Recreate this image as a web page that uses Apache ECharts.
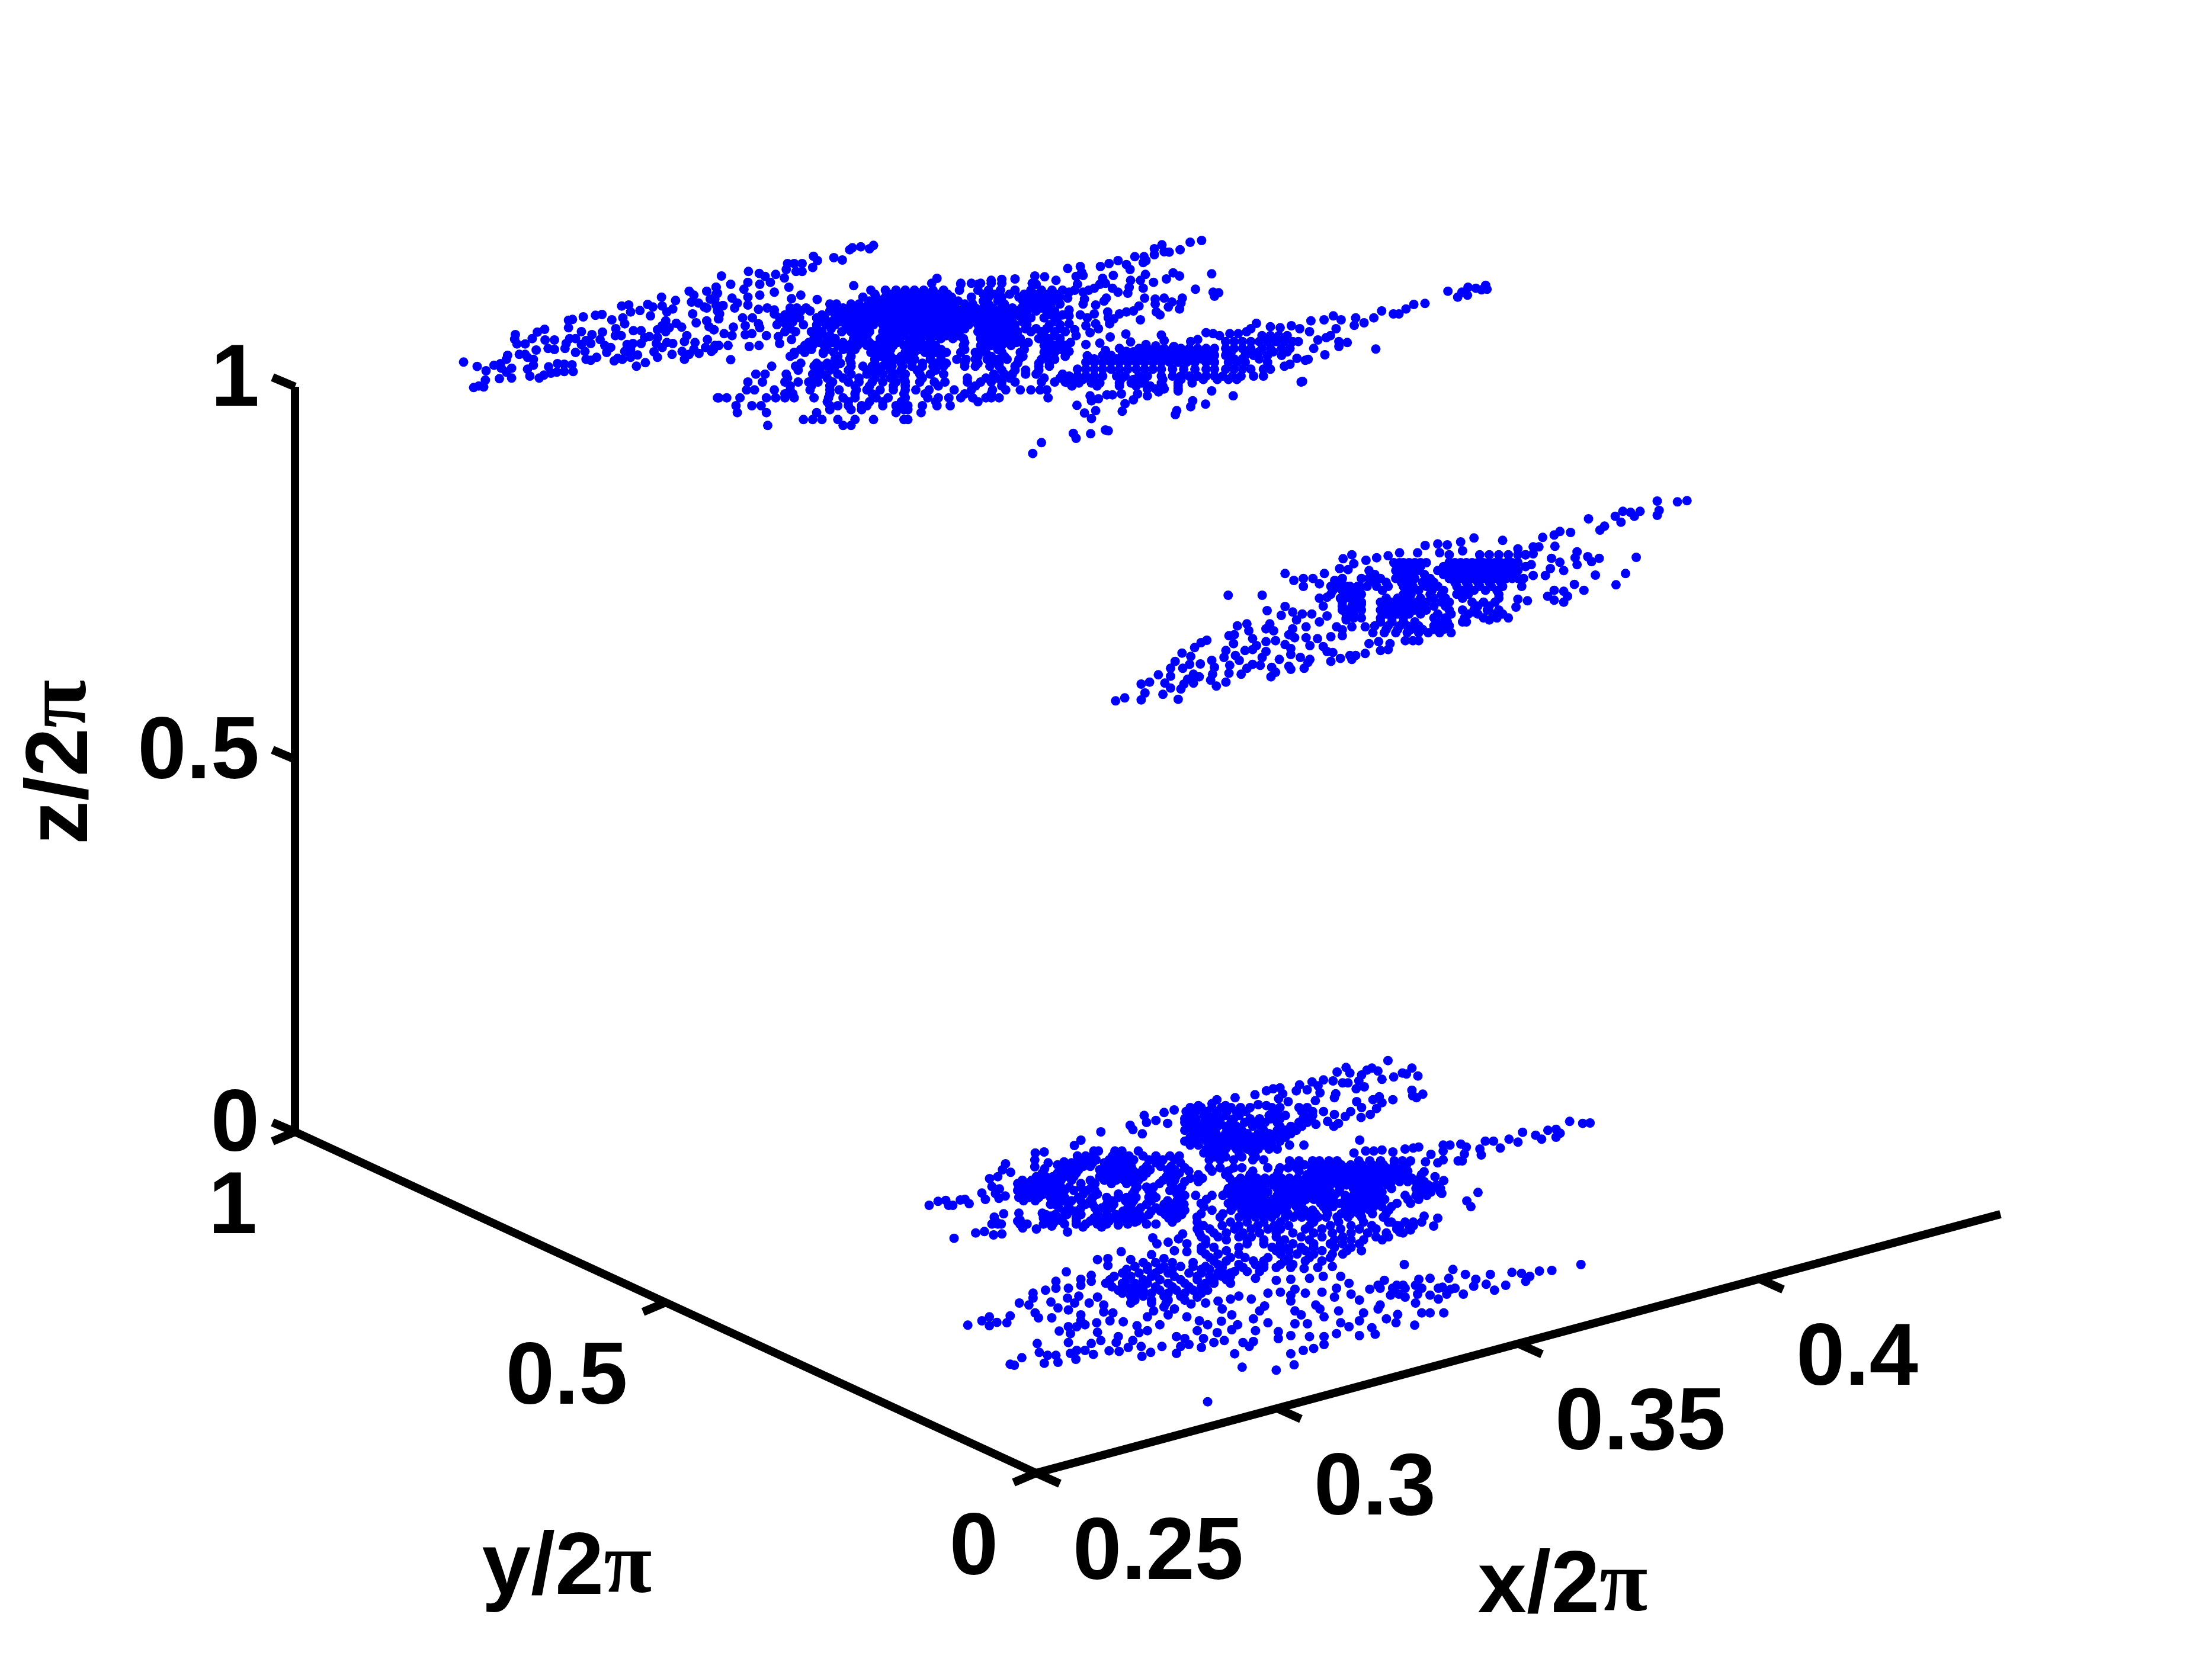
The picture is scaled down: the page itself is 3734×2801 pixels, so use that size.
<!DOCTYPE html>
<html><head><meta charset="utf-8"><style>html,body{margin:0;background:#fff}#c{width:3734px;height:2801px}</style>
<script src="https://cdn.jsdelivr.net/npm/echarts@6/dist/echarts.min.js"></script></head><body><div id="c"></div><script>
// Axis ranges and tick labels
const xTicks=[0.25,0.3,0.35,0.4], yTicks=[0,0.5,1], zTicks=[0,0.5,1];
const xTickText=['0.25','0.3','0.35','0.4'], yTickText=['0','0.5','1'], zTickText=['0','0.5','1'];
const xRange=[0.25,0.45];
// Point readings per picture region, as plane positions: dots=[u,v,u,v...], rows=[v,u,u,u...]
const top1Dots=[57,664,115,686,153,708,150,755,143,790,122,785,100,793,187,680,215,672,218,695,262,695,245,630,240,650,210,748,262,745,240,715,278,525,275,548,285,572,320,572,350,545,372,512,403,498,295,625,320,625,330,640,367,603,355,650,355,680,330,700,340,735,380,745,400,730,420,688,430,720,458,672,455,715,487,675,487,712,520,678,525,712,405,552,445,552,418,595,445,600,490,595,495,570,510,545,535,545,560,510,605,525,580,555,560,575,650,512,640,550,600,570,575,610,535,615,580,650,600,655,625,640,660,580,685,590,668,615,505,490,505,452,522,448,568,435,620,427,648,423,690,450,737,440,745,470,707,495,705,530,730,530,732,380,762,375,770,410,810,403,843,372,865,385,855,430,902,335,905,380,925,410,950,395,962,352,782,505,815,505,830,540,850,535,815,570,780,570,755,575,745,610,770,600,800,628,770,640,735,650,700,658,715,645,795,685,833,667,920,455,905,480,885,500,885,540,920,510,935,490,965,468,988,487,1010,530,1000,560,950,570,925,565,880,570,905,590,870,612,885,640,947,625,990,610,1000,650,1020,625,1045,565,1040,600,1062,620,1098,550,1090,590,1115,610,1130,580,1020,305,1040,325,1095,305,1135,285,1135,320,1030,360,1060,365,1085,385,1110,345,1135,375,1165,378,1035,420,1095,390,1150,420,1145,445,1050,465,1095,455,1125,500,1105,485];
const top2Dots=[1217,1127,1250,1072,40,228,75,270,20,285,25,315,15,345,45,378,25,405,30,445,80,340,100,365,90,390,142,205,140,260,125,295,140,335,140,375,183,215,205,230,185,270,185,325,245,220,225,260,240,310,278,238,295,285,290,165,315,165,345,165,285,195,322,205,345,205,388,128,403,150,385,185,465,135,497,147,525,95,535,85,567,80,600,90,615,73,540,277,305,343,340,325,402,347,180,397,213,390,240,400,240,420,120,440,157,440,130,480,180,470,185,490,130,525,155,520,145,585,182,580,210,530,255,535,260,570,305,550,85,487,12,500,50,520,80,530,65,580,30,580,10,600,75,652,315,625,355,605,385,575,430,585,425,620,855,240,945,270,1010,270,1060,250,1100,245,1150,243,1225,228,1262,232,1305,250,1230,270];
const top2Rows=[
[265,835,945,985,1020,1060,1100,1215],
[300,605,660,700,735,770,805,840,880,940,1010,1050,1095,1150,1210,1250,1290,1330],
[320,620,680,715,750,790,825,860,895,1030,1075,1130,1185,1225,1265,1305],
[335,575,625,660,695,730,770,805,840,875,910,985,1050,1100,1165,1200,1240,1280,1320],
[355,600,645,680,715,750,790,825,860,895,935,1030,1085,1180,1220,1260,1300],
[370,450,475,530,560,595,630,665,700,735,770,805,840,875,910,960,990,1050,1110,1200,1240,1280,1320],
[390,300,325,360,465,500,540,575,610,645,680,715,750,785,820,855,890,925,960,1000,1030,1065,1100,1140,1175,1210,1250,1285],
[405,300,340,375,450,480,520,555,590,625,660,695,730,765,800,835,870,905,940,975,1010,1045,1080,1120,1155,1190,1230,1270,1300],
[425,280,320,420,490,530,565,600,635,670,705,740,775,810,850,880,915,950,985,1020,1055,1090,1125,1160,1195,1285,1330],
[440,260,295,335,400,430,470,510,545,580,615,650,685,720,755,790,825,865,895,930,965,1000,1035,1070,1105,1140,1175,1210,1260,1310],
[460,270,310,420,455,490,530,565,600,635,670,705,740,775,810,845,885,920,955,990,1025,1060,1100,1135,1180,1300],
[475,250,285,350,400,435,470,510,545,580,615,650,685,720,755,790,830,870,905,940,975,1010,1045,1080,1115,1150,1195,1280,1320],
[495,300,400,455,515,550,585,670,705,740,775,815,850,885,925,960,1030,1065,1100,1140,1190,1230,1270,1320],
[510,280,320,380,420,495,530,565,600,650,690,725,760,795,835,870,905,940,1010,1045,1085,1120,1160,1210,1250,1300,1340],
[530,410,450,555,590,660,695,730,775,810,850,890,935,1030,1070,1110,1150,1260,1300],
[545,390,440,470,540,575,640,675,715,760,795,830,870,915,955,1020,1055,1095,1130,1170,1240,1280,1320],
[565,370,410,460,500,535,570,600,660,705,750,790,830,960,1035,1080,1115,1155,1200,1270,1320],
[580,355,385,430,480,520,555,590,620,650,690,730,775,810,850,955,1020,1060,1100,1135,1185,1260,1300,1340],
[600,340,380,440,500,545,610,640,680,750,790,830,870,960,1030,1085,1185,1280,1320],
[615,315,355,425,465,530,605,620,665,735,770,810,850,890,945,1000,1040,1100,1170,1260,1300,1340],
[635,300,480,530,640,680,720,750,830,870,1010,1060,1110,1180,1270,1340],
[650,470,525,620,660,700,735,770,830,870,930,965,1000,1045,1085,1120,1165,1250,1300],
[670,340,400,440,490,530,620,670,720,760,800,850,890,960,1010,1060,1090,1160,1240,1280],
[685,230,320,390,420,470,530,575,610,650,685,725,760,800,840,880,960,1000,1055,1090,1150,1240,1280],
[705,330,400,450,520,590,630,680,720,780,850,1100,1150,1190,1240],
[725,170,205,285,385,420,480,530,590,620,650,700,735,790,830,880,1070,1110,1140,1190,1230,1330],
[745,290,400,440,500,560,620,680,730,800,970,1040,1080,1130,1260,1320],
[765,140,195,280,330,370,405,460,520,560,610,650,700,735,790,845,885,970,1020,1060,1100,1150,1250,1300,1340],
[785,300,380,450,545,600,690,735,860,1000,1100],
[805,135,165,240,300,375,450,485,550,590,640,690,735,775,825,920,985,1065,1115,1170,1210,1245,1270],
[825,280,310,450,545,610,730,810,960,1060],
[845,25,60,30,110,210,245,280,315,390,445,500,545,625,670,735,820,860,900,945,990,1040,1060,1090,1275],
[865,440,520,600,650,720,850,1010],
[885,95,155,190,450,480,520,570,590,650,700,735,745,800,855,905],
[905,450,530,570,730,745],
[920,100,210,400,700,795],
[955,350,385,420,480,545,615,730,745],
[985,215,500,530]];
const top3Dots=[5,190,50,180,55,210,35,230,60,225,40,270,122,180,153,165,185,150,215,170,228,195,245,130,278,130,285,150,275,160,315,90,342,70,315,120,350,105,368,107,407,95,443,57,484,48,130,240,168,225,140,265,120,270,100,290,80,300,60,310,30,300,10,310,5,340,65,345,60,370,185,310,165,290,220,315,225,285,230,250,265,250,283,220,275,290,312,260,358,243,382,212,405,228,520,217,462,295,525,310,545,313,530,330,143,340,135,355,105,375,280,340,318,345,350,340,378,360,365,385,318,370,415,340,410,365,405,395,322,410,335,425,260,380,240,405,215,410,190,420,148,410,150,440,170,445,155,470,265,450,10,400,50,425,100,420,75,440,70,480,105,470,115,495,85,515,10,430,10,470,30,500,35,530,15,565,70,575,120,568,157,537,213,522,230,562,340,527,350,555,190,595,215,610,285,575,320,582,385,585,140,605,10,610,75,632,445,560,470,550,500,515,525,520,548,530,585,520,615,520,645,510,660,495,680,468,730,485,765,490,805,480,835,495,875,455,922,450,955,430,983,450,965,495,870,510,1035,440,1030,478,1065,465,1100,440,1128,405,1170,420,1190,420,1215,395,1243,372,1283,367,1365,305,1400,335,1415,310,1435,325,1437,285,1465,290,1500,275,1505,295,1485,298,900,552,930,540,945,530,975,560,975,585,1005,565,885,595,925,627,1107,598,865,650,855,655,825,645,800,675,780,685,840,765,845,762,85,835,115,850,145,830,165,830,197,825,255,825,240,855,210,875,290,835,330,815,400,810,520,810,597,835,38,883,90,860,452,860,445,890,498,877,200,913,65,922,105,910,90,950,395,910,390,930,25,1025,35,1050,87,1027,140,1008,150,1012];
const top3Rows=[
[530,700,730,760,790],
[560,570,600,630,660,690,720,750,780,810,830],
[595,260,290,320,350,380,410,440,470,500,530,570,600,630,660,700,730,770,800],
[612,240,275,305,335,365,395,425,455,485,515,590,650,690,740,790],
[630,130,160,200,230,260,290,320,350,380,410,440,470,500,530,570,640,670,720,770],
[648,100,145,180,215,245,275,305,335,365,395,425,455,485,520,600,630,690],
[665,70,100,130,160,190,220,250,280,310,340,370,400,430,460,500,530,580,610,640,720],
[700,40,70,100,130,160,190,220,250,280,310,340,380,420,460,500,530,570,600,630,660,705,730],
[735,10,40,70,100,130,180,210,260,290,340,380,410,440,470,500,530,560,595,625,670,705],
[752,30,60,95,195,240,280,345,410,450,490,540,580,610],
[770,10,45,90,120,190,232,270,340,400,450],
[785,20,110,190,250,300,345,400],
[800,290,320,350,400]];
const midDots=[36,1090,60,1075,103,1005,103,1085,113,1050,125,995,160,1057,200,1082,165,1000,180,1025,207,1030,215,1005,240,1000,225,980,240,955,255,968,148,958,180,925,180,965,212,925,192,890,233,865,210,848,230,905,258,903,243,820,260,795,275,783,288,885,295,920,290,955,285,985,300,1015,325,995,333,950,345,800,333,760,347,755,355,710,380,700,385,735,395,775,430,725,440,700,450,735,320,870,335,910,325,835,350,860,375,835,395,830,360,885,380,925,365,955,395,905,415,910,420,870,430,840,405,810,430,790,455,785,480,805,445,920,465,880,495,855,490,915,495,930,455,945,443,968,530,925,540,895,520,870,495,825,545,810,580,815,565,775,600,765,630,760,630,730,615,715,655,715,535,770,490,755,505,770,500,725,535,715,510,680,525,650,550,650,480,612,500,640,433,633,470,657,570,690,590,660,580,610,570,570,590,565,640,680,650,660,660,640,630,610,690,715,710,745,660,570,680,600,645,540,610,520,640,510,670,510,700,470,610,480,630,470,680,470,480,445,503,480,528,470,528,510,553,470,570,497,583,445,623,420,645,425,632,370,655,350,660,395,692,378,720,365,750,355,780,340,827,340,847,303,880,295,905,300,940,285,975,265,885,340,910,350,945,330,1050,277,1155,262,1185,250,1200,232,1228,237,1275,168,1305,225,1317,205,1345,155,1365,130,1360,185,1385,135,1395,155,1410,130,1455,78,1508,82,1533,76,1460,125,1455,150,1187,307,1130,310,1145,310,1130,345,1110,350,1178,368,1200,388,1175,420,1162,455,1210,430,1245,335,1240,365,1245,400,1273,360,1283,385,1303,368,1400,363,1293,453,1372,445,1347,502,1238,500,1263,530,1210,535,1220,560,1210,590,1185,530,1168,560,1185,580,1115,583,1090,575,1085,615,331,555,420,555,1130,455,1100,510,1105,470,1125,400,1090,320,725,790,700,800,755,800,730,835,750,830,690,850,665,860,650,860,655,880,625,875,600,890,605,845,545,880,590,840,945,690,955,690,1015,680,975,640];
const midRows=[
[350,990,1015,1040,1065,1090,1110],
[390,765,780,790,805,820,835,850,910,925,940,955,970,985,1000,1015,1030,1045,1060,1075,1090],
[410,780,805,835,895,925,955,985,1015,1045,1075,1110],
[430,700,770,785,800,815,830,880,895,910,925,940,955,970,985,1000,1015,1030,1045,1060,1075,1090],
[450,715,785,815,845,895,925,955,985,1015,1045,1075],
[470,700,730,770,785,800,820,860,910,925,940,955,970,985,1000,1015,1030,1045,1060,1075,1090],
[490,715,745,785,810,840,870,925,955,985,1015,1045],
[510,600,625,650,675,695,720,750,790,815,850,880,930,960,990,1020,1050],
[530,605,630,655,675,735,800,830,865,895,945,975,1005,1035],
[550,600,640,660,680,790,810,860,890,930,960,1040],
[570,625,650,675,745,775,805,835,870,900,945,1040],
[590,630,660,680,730,760,790,820,850,890,910,970,1000,1030],
[610,630,655,675,745,775,805,835,870,900,985,1015],
[630,630,650,680,730,760,790,820,850,910,945,975,1010,1040],
[650,640,660,745,775,805,835,880,915,960,985,1025,1050],
[670,640,660,680,730,760,790,870,900,950,1000,1035,1065],
[690,730,760,790,820,880,905],
[710,715,750,780,800,830,870,890,910],
[728,745,775,810,840,870,895],
[745,740,770,800,830,855,885,915],
[785,795,815,830]];
const low1Dots=[72,795,110,775,143,770,155,795,173,795,205,768,225,765,243,787,297,733,312,765,398,585,385,615,420,628,330,660,365,650,340,700,372,712,355,735,370,760,397,748,525,530,563,525,523,565,523,600,580,580,620,590,648,575,565,610,720,465,692,492,805,423,930,390,942,412,982,433,990,340,1040,365,1000,375,1075,325,1090,380,1118,312,1165,360,555,835,590,850,455,835,460,870,390,838,350,855,365,885];
const low1Rows=[
[520,775,795,865,895,965],
[545,705,740,770,855,890,925,985,1040,1100,1140],
[565,720,755,785,840,870,905,945,1010,1070,1120],
[580,680,710,740,770,820,850,880,920,1040,1145],
[598,650,695,730,760,830,860,895,935,1000,1060,1105],
[615,640,675,710,800,840,870,905,940,985,1015,1090,1120],
[632,555,620,665,700,815,850,885,920,960,1000,1100,1140],
[650,530,570,600,650,690,800,830,860,890,920,950,985,1085,1125],
[668,470,510,555,595,635,680,760,820,870,905,935,965,1070,1120],
[685,450,490,535,570,610,720,780,850,915,950,1055,1105],
[703,470,510,560,600,635,670,720,765,960,1000,1030,1115,1150],
[720,450,490,540,580,615,650,690,745,780,950,1010,1100,1140],
[738,470,520,560,600,640,730,790,880,940,1025,1130],
[755,455,500,540,590,620,650,710,770,830,880,915,955,1010,1040,1150],
[772,475,525,610,640,680,720,760,850,910,945,1020,1090,1130],
[790,590,610,665,740,770,830,860,935,1000,1075,1110,1160],
[808,625,670,720,780,810,850,920,975,1040,1090,1130],
[825,650,690,700,790,830,900,945,1020,1060,1095,1130],
[842,570,610,660,720,790,830,870,920,970,1010,1080,1110,1150],
[860,560,590,630,700,775,810,850,890,950,985,1095,1130],
[875,450,570,610,640,700,760,790,840,880,920,960],
[890,340,380,460,490,560,600,650,700,740,790,830,880,920,1000,1040]];
const low2Dots=[747,62,593,97,607,125,560,120,688,100,670,110,710,115,650,135,725,157,768,145,800,125,815,130,835,100,857,140,510,160,545,165,580,175,600,175,640,165,630,205,660,195,468,170,490,190,422,185,410,215,450,210,497,225,480,265,550,250,555,230,835,212,838,240,852,250,875,232,765,260,715,245,692,260,725,275,705,305,682,335,648,350,632,270,650,300,610,320,590,345,510,320,550,335,525,370,548,395,565,380,482,385,118,260,185,250,258,235,300,215,325,205,350,200,50,290,100,280,150,290,5,320,360,230,345,255,380,270,300,290,270,285,622,530,665,520,695,520,725,515,765,525,810,510,840,505,860,500,643,465,438,490,950,490,975,490,1015,485,1035,500,950,520,1028,535,1005,570,1020,570,1085,510,1090,540,1105,470,1135,470,1160,505,1192,460,1225,475,1242,425,1290,440,1312,460,1335,415,1365,410,1380,430,1365,450,1415,370,1463,380,1490,378,905,537,885,575,930,580,950,565,880,625,870,640,920,650,952,670,945,735,1078,730,1037,773,1052,802,760,880,790,900,840,880,880,850,930,860,915,900,790,930,830,920];
const low2Rows=[
[300,20,60,100,135,170,205,240,320,350,420,450],
[320,40,80,120,155,190,225,330,430,470],
[340,20,70,110,150,200,310,345,370,440,470],
[357,0,40,90,130,180,240,275,315,350,435,465],
[375,0,30,70,100,130,170,220,255,295,340,420,450],
[395,15,50,85,120,150,190,250,280,350,390,430],
[415,0,30,70,100,170,210,290,340,370,410],
[432,40,80,115,150,190,230,270,310,350,390],
[450,20,60,100,130,170,210,250,290,330,370],
[470,0,40,80,115,150,190,230,270,310,350],
[490,20,50,100,130,170,210,250,290,320,385],
[510,80,115,150,190,230,270,310,340],
[530,70,100,130,200,250],
[550,110,150,210,260],
[565,90,130,180,250,290],
[570,385,420,470,495,530,560,640,680,720,770,800,830],
[590,395,440,480,515,545,575,610,650,690,730,770,815],
[605,0,90,130,180,210,305,350,380,410,470,500,530,560,590,620,650,680,710,740,770,800],
[622,15,100,160,250,345,420,465,495,525,555,585,615,645,675,705,735,765,795,820],
[640,50,150,240,340,450,480,510,540,570,600,630,660,690,720,750,780,810],
[658,20,65,165,205,235,265,295,325,355,385,415,445,475,505,535,565,595,625,655,685,715,745,775,805,835,865],
[675,0,50,190,220,250,280,310,340,370,400,430,460,490,520,550,580,610,640,670,700,730,760,790,820,850,880],
[692,175,205,235,265,295,325,355,385,415,445,475,505,535,565,595,625,655,685,715,745,860,895,925],
[710,160,190,220,250,280,340,370,400,430,460,490,520,570,620,650,680,710,760,850,880,910,940],
[728,155,185,215,245,275,305,355,385,415,445,475,505,535,565,635,665,695,725,870,905,940],
[745,0,40,100,140,170,200,230,260,290,340,370,400,430,460,490,520,550,590,620,650,680,710,810,850,890],
[765,80,175,205,235,265,295,325,355,385,415,445,475,510,545,590,615,645,675,705,735,820,860],
[785,60,160,190,220,250,280,310,340,370,400,430,500,530,570,600,630,660,690,720,780,830],
[802,70,180,225,255,285,315,345,375,410,510,545,605,635,665,695,725,760],
[820,0,100,170,210,240,270,300,330,360,440,470,520,590,620,650,680,750],
[838,60,140,215,245,275,305,335,380,415,450,480,525,575,610,640,690,740],
[855,45,130,200,230,260,290,320,370,400,430,460,490,520,560,600,650,730]];
const low3Dots=[15,92,67,65,88,58,110,75,130,70,120,20,180,40,213,45,250,30,288,60,325,35,370,35,410,25,450,10,540,10,493,90,503,120,530,112,565,70,555,95,575,120,417,160,360,200,385,195,385,230,440,200,490,175,520,195,545,155,575,160,285,262,345,280,320,300,320,330,345,310,260,310,260,345,235,355,205,370,290,345,172,420,205,395,195,430,210,470,218,495,248,415,265,445,290,455,250,495,288,395,315,385,305,420,340,420,360,390,375,430,375,465,320,480,320,510,358,520,330,530,310,540,290,540,268,562,295,575,290,620,360,568,368,610,215,625,220,670,240,685,232,725,260,685,265,720,178,697,150,730,160,735,295,675,310,660,308,705,345,625,350,680,330,660,388,662,412,665,410,590,405,620,397,470,390,510,422,515,48,532,82,510,100,490,100,535,118,518,150,485,142,520,434,645,445,610,465,640,467,690,488,670,455,535,460,570,480,560,480,490,495,460,510,530,515,640,550,675,560,640,580,630,610,645,625,530,605,510,575,490,545,450,520,440,530,480,550,590,570,600,600,560,615,600,640,620,665,610,648,570,658,512,683,555,697,530,683,480,660,450,650,410,620,420,585,425,600,390,680,400,700,385,730,400,710,620,735,615,725,640,740,560,770,520,735,500,750,460,762,435,690,677,708,745,790,760,833,733,825,677,625,920,795,565,795,600,825,585,835,525,865,525,870,590,905,590,905,630,880,650,855,660,935,575,990,585,1028,578,1020,545,990,510,1000,470,945,520,965,540,940,460,905,490,895,450,885,430,835,460,850,480,860,370,835,350,825,300,790,305,770,370,800,365,825,380,825,410,900,365,930,390,935,345,965,320,945,285,970,375,990,405,1015,350,1035,330,1050,305,1080,330,1095,330,1065,380,1100,390,1125,420,1140,470,1160,470,1160,380,1180,400,1125,330,1133,300,1160,295,1190,340,1210,350,1205,295,1215,250,1245,275,1240,375,1270,300,1265,335,1295,325,1305,275,1315,355,1342,330,1357,265,1380,270,1400,285,1390,310,1423,258,1453,255,1523,225,1098,225,1193,470,1123,532,1035,450,1055,500,1082,478,1078,520,1040,430,857,245,890,240,925,235,870,295,903,285];
const low3Rows=[
[10,600,680,720,760,800,880,940,1000,1060,1100,1140],
[28,615,660,700,745,785,820,870,920,970,1020,1080,1120],
[45,600,630,690,730,770,800,860,900,945,990,1030,1080,1110],
[65,605,640,670,710,750,790,830,880,925,970,1010,1055,1095],
[85,610,650,700,730,790,850,900,950,1030,1060],
[100,620,670,720,760,810,870,930,970,1000,1045],
[120,620,720,760,800,830,880,920,950,990],
[138,610,640,700,780,810,850,880,930,970],
[155,610,670,790,820,860,900,960,995],
[172,620,650,700,800,840,880,925,950],
[190,630,680,715,770,820,870,920],
[207,640,670,735,760,810,860,900],
[215,470,500,540,590],
[225,650,700,740,760,800,830],
[235,450,480,520,560,590,620],
[240,660,710,760,790,825],
[250,430,480,510,540,610,630],
[260,660,690,720,750],
[268,420,460,500,530,580,610,650,680],
[285,400,440,490,545,600,630,660,680],
[295,740],
[302,390,430,470,510,560,600,640,670],
[320,380,420,450,480,530,570,620,640,680],
[338,395,430,460,500,540,580,610],
[345,1040,1070,1100,1140,1180,1220],
[355,410,440,470,510,550,590,625],
[370,420,455,490,530,570,610],
[375,1085,1130,1200],
[385,440,470,520,560],
[405,450,490,530,570],
[420,440,490,525]];

// Where each reading region sits in the plot plane: [u0, v0, uScale, vScale]
const frame1=[760,390,2.529,3],frame2=[1200,390,2.24,3],frame3=[1800,390,2.119,3],frame4=[1860,820,1.552,3],frame5=[1540,1770,2.529,3],frame6=[2000,1770,2.178,3],frame7=[1600,2060,1.425,3];
function readDots(a,f){const o=[];for(let i=0;i<a.length;i+=2)o.push([f[0]+a[i]/f[2],f[1]+a[i+1]/f[3]]);return o;}
function readRows(a,f){const o=[];a.forEach(r=>{for(let i=1;i<r.length;i++)o.push([f[0]+r[i]/f[2],f[1]+r[0]/f[3]]);});return o;}
const topCluster=[...readDots(top1Dots,frame1),...readDots(top2Dots,frame2),...readRows(top2Rows,frame2),...readDots(top3Dots,frame3),...readRows(top3Rows,frame3)];
const midCluster=[...readDots(midDots,frame4),...readRows(midRows,frame4)];
const lowCluster=[...readDots(low1Dots,frame5),...readRows(low1Rows,frame5),...readDots(low2Dots,frame6),...readRows(low2Rows,frame6),...readDots(low3Dots,frame7),...readRows(low3Rows,frame7)];

// Oblique projection of the 3-D box onto the plot plane
function project(x,y,z){const t=(x-xRange[0])/(xRange[1]-xRange[0]);return [1749+1628*t-1251*y,2487-437*t-576*y-1258*z];}
const AXIS=14,BLUE='#0000ff',FS=148,FAM='"Liberation Sans",Arial,sans-serif';
function lineS(a,b){return {type:'line',data:[a,b],showSymbol:false,silent:true,animation:false,clip:false,lineStyle:{color:'#000',width:AXIS,cap:'butt',opacity:1},z:3};}
function tick(p,d){return lineS(p,[p[0]+d[0],p[1]+d[1]]);}
const hidden={color:'rgba(0,0,0,0)',opacity:1};
function textS(points,texts,align,offset){return {type:'scatter',silent:true,animation:false,symbolSize:1,itemStyle:hidden,z:5,
 data:points.map((p,i)=>({value:p,label:{formatter:texts[i]}})),
 label:{show:true,position:'inside',align:align,verticalAlign:'middle',offset:offset,color:'#000',fontFamily:FAM,fontWeight:'bold',fontSize:FS}};}
function titleS(p,axisName,rotate){return {type:'scatter',silent:true,animation:false,symbolSize:1,itemStyle:hidden,z:5,data:[p],
 label:{show:true,position:'inside',align:'center',verticalAlign:'middle',rotate:rotate,formatter:'{a|'+axisName+'/2}{b|π}',
 rich:{a:{fontFamily:FAM,fontWeight:'bold',fontSize:FS,color:'#000'},b:{fontFamily:'"Liberation Serif",serif',fontWeight:'bold',fontSize:FS,color:'#000'}}}};}
function dotS(d){return {type:'scatter',data:d,symbol:'circle',symbolSize:16,silent:true,animation:false,itemStyle:{color:BLUE,opacity:1},z:2};}
const xTop=xRange[0],xEnd=xRange[1];
const series=[dotS(topCluster),dotS(midCluster),dotS(lowCluster),
 lineS(project(xTop,0,0),project(xEnd,0,0)),lineS(project(xTop,0,0),project(xTop,1,0)),lineS(project(xTop,1,0),project(xTop,1,1)),
 ...xTicks.map(v=>tick(project(v,0,0),[40,18])),
 ...yTicks.map(v=>tick(project(xTop,v,0),[-38,16])),
 ...zTicks.map(v=>tick(project(xTop,1,v),[-38,-16])),
 textS(xTicks.map(v=>project(v,0,0)),xTickText,'left',[62,138]),
 textS(yTicks.map(v=>project(xTop,v,0)),yTickText,'right',[-64,130]),
 textS(zTicks.map(v=>project(xTop,1,v)),zTickText,'right',[-60,-9]),
 titleS([2638,2681],'x',0),titleS([957,2650],'y',0),titleS([106,1287],'z',90)];
const chart=echarts.init(document.getElementById('c'),null,{renderer:'canvas'});
chart.setOption({backgroundColor:'#fff',animation:false,
 grid:{left:0,right:0,top:0,bottom:0},
 xAxis:{type:'value',min:0,max:3734,show:false},
 yAxis:{type:'value',min:0,max:2801,inverse:true,show:false},
 series});
</script></body></html>
